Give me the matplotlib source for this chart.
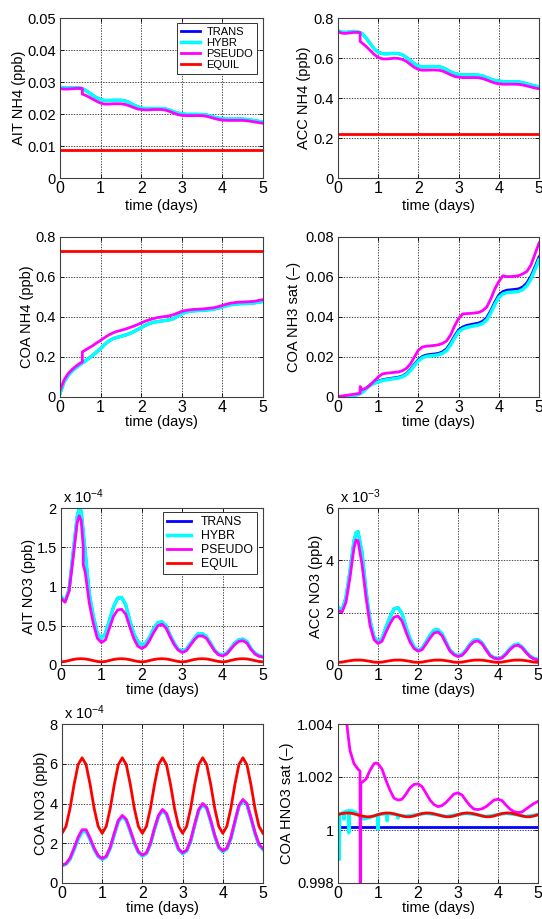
import numpy as np
import matplotlib
matplotlib.use("Agg")
import matplotlib.pyplot as plt

plt.rcParams['font.family'] = ['Liberation Sans', 'DejaVu Sans']
plt.rcParams['mathtext.fontset'] = 'custom'
plt.rcParams['mathtext.rm'] = 'Liberation Sans'
plt.rcParams['mathtext.it'] = 'Liberation Sans:italic'
plt.rcParams['mathtext.default'] = 'regular'

# ---------------------------------------------------------------- time grids
days = np.round(np.arange(51) * 0.1, 2)                  # 0.0 ... 5.0
days_jump = np.insert(days, 6, [0.55, 0.55])             # extra step at 0.55 d
days_peak = np.insert(days, 5, 0.45)                     # extra point at 0.45 d
days_peak_jump = np.insert(days_jump, 5, 0.45)
days_const = [0, 1, 2, 3, 4, 5]

series_names = ['TRANS', 'HYBR', 'PSEUDO', 'EQUIL']
series_colors = ['#0000ff', '#00ffff', '#ff00ff', '#ff0000']

# ---------------------------------------------------------------- AIT NH4 (ppb)
ait_nh4_hybr = [
    0.0284, 0.0281, 0.0281, 0.0282, 0.0282, 0.0281, 0.0276, 0.0268, 0.0259, 0.0251,
    0.0245, 0.0242, 0.0242, 0.0243, 0.0243, 0.0243, 0.0241, 0.0236, 0.0229, 0.0223,
    0.0219, 0.0217, 0.0217, 0.0217, 0.0217, 0.0217, 0.0216, 0.0212, 0.0207, 0.0203,
    0.0201, 0.0199, 0.0199, 0.0199, 0.0199, 0.0198, 0.0197, 0.0194, 0.0190, 0.0187,
    0.0185, 0.0184, 0.0184, 0.0184, 0.0184, 0.0184, 0.0183, 0.0181, 0.0179, 0.0177,
    0.0176]
ait_nh4_trans = ait_nh4_hybr
ait_nh4_pseudo = [
    0.0279, 0.0278, 0.0278, 0.0279, 0.0280, 0.0280, 0.0280, 0.0262,
    0.0260, 0.0254, 0.0247, 0.0240,
    0.0234, 0.0231, 0.0231, 0.0232, 0.0232, 0.0232, 0.0230, 0.0226, 0.0221, 0.0216,
    0.0214, 0.0213, 0.0213, 0.0214, 0.0214, 0.0214, 0.0212, 0.0208, 0.0203, 0.0198,
    0.0196, 0.0195, 0.0195, 0.0195, 0.0195, 0.0195, 0.0193, 0.0190, 0.0186, 0.0183,
    0.0181, 0.0180, 0.0180, 0.0180, 0.0180, 0.0180, 0.0179, 0.0177, 0.0175, 0.0173,
    0.0171]
ait_nh4_equil = [0.0088, 0.0088, 0.0088, 0.0088, 0.0088, 0.0088]

# ---------------------------------------------------------------- ACC NH4 (ppb)
acc_nh4_hybr = [
    0.736, 0.729, 0.728, 0.731, 0.733, 0.730, 0.722, 0.700, 0.672, 0.646,
    0.628, 0.622, 0.621, 0.622, 0.623, 0.622, 0.616, 0.603, 0.587, 0.571,
    0.560, 0.556, 0.556, 0.557, 0.557, 0.557, 0.552, 0.542, 0.531, 0.523,
    0.518, 0.515, 0.515, 0.515, 0.515, 0.514, 0.510, 0.502, 0.494, 0.488,
    0.485, 0.482, 0.481, 0.481, 0.481, 0.480, 0.477, 0.471, 0.465, 0.460,
    0.456]
acc_nh4_trans = acc_nh4_hybr
acc_nh4_pseudo = [
    0.731, 0.724, 0.723, 0.726, 0.728, 0.728, 0.727, 0.683,
    0.675, 0.658, 0.638, 0.618,
    0.603, 0.596, 0.595, 0.597, 0.599, 0.598, 0.593, 0.583, 0.568, 0.553,
    0.543, 0.539, 0.539, 0.540, 0.540, 0.539, 0.535, 0.526, 0.516, 0.508,
    0.504, 0.502, 0.502, 0.502, 0.502, 0.501, 0.497, 0.490, 0.482, 0.475,
    0.471, 0.469, 0.469, 0.469, 0.469, 0.468, 0.465, 0.460, 0.455, 0.450,
    0.446]
acc_nh4_equil = [0.222, 0.222, 0.222, 0.222, 0.222, 0.222]

# ---------------------------------------------------------------- COA NH4 (ppb)
coa_nh4_hybr = [
    0.017, 0.075, 0.108, 0.130, 0.148, 0.163, 0.177, 0.192, 0.207, 0.225,
    0.242, 0.262, 0.280, 0.291, 0.298, 0.303, 0.309, 0.316, 0.325, 0.336,
    0.347, 0.358, 0.367, 0.373, 0.377, 0.380, 0.383, 0.386, 0.392, 0.404,
    0.417, 0.424, 0.429, 0.431, 0.432, 0.433, 0.435, 0.437, 0.440, 0.445,
    0.450, 0.456, 0.461, 0.464, 0.466, 0.467, 0.468, 0.469, 0.471, 0.474,
    0.478]
coa_nh4_trans = coa_nh4_hybr
coa_nh4_pseudo = [
    0.033, 0.085, 0.117, 0.138, 0.155, 0.170, 0.175, 0.225,
    0.232, 0.244, 0.256, 0.270,
    0.283, 0.297, 0.310, 0.320, 0.328, 0.333, 0.339, 0.346, 0.353, 0.361,
    0.370, 0.379, 0.386, 0.392, 0.397, 0.400, 0.403, 0.406, 0.412, 0.420,
    0.428, 0.433, 0.436, 0.438, 0.439, 0.440, 0.442, 0.444, 0.447, 0.452,
    0.458, 0.464, 0.469, 0.472, 0.474, 0.475, 0.476, 0.477, 0.479, 0.483,
    0.487]
coa_nh4_equil = [0.730, 0.730, 0.730, 0.730, 0.730, 0.730]

# ---------------------------------------------------------------- COA NH3 saturation (-)
nh3_sat_trans = [
    0.0000, 0.0002, 0.0004, 0.0006, 0.0009, 0.0013, 0.0024, 0.0043, 0.0061, 0.0072,
    0.0079, 0.0086, 0.0090, 0.0093, 0.0096, 0.0099, 0.0105, 0.0117, 0.0138, 0.0164,
    0.0187, 0.0203, 0.0210, 0.0213, 0.0215, 0.0218, 0.0226, 0.0241, 0.0270, 0.0305,
    0.0336, 0.0350, 0.0358, 0.0362, 0.0366, 0.0370, 0.0379, 0.0397, 0.0432, 0.0474,
    0.0510, 0.0527, 0.0534, 0.0536, 0.0538, 0.0541, 0.0551, 0.0571, 0.0604, 0.0651,
    0.0700]
nh3_sat_hybr = [
    0.0000, 0.0002, 0.0004, 0.0006, 0.0009, 0.0012, 0.0022, 0.0040, 0.0058, 0.0068,
    0.0075, 0.0082, 0.0086, 0.0089, 0.0092, 0.0095, 0.0101, 0.0112, 0.0132, 0.0158,
    0.0180, 0.0196, 0.0203, 0.0206, 0.0208, 0.0211, 0.0218, 0.0232, 0.0260, 0.0295,
    0.0326, 0.0340, 0.0348, 0.0352, 0.0356, 0.0360, 0.0368, 0.0385, 0.0420, 0.0462,
    0.0498, 0.0515, 0.0522, 0.0524, 0.0526, 0.0528, 0.0538, 0.0557, 0.0590, 0.0637,
    0.0686]
nh3_sat_pseudo = [
    0.0003, 0.0005, 0.0008, 0.0011, 0.0014, 0.0017, 0.0019, 0.0052,
    0.0036, 0.0045, 0.0060, 0.0080,
    0.0100, 0.0115, 0.0119, 0.0121, 0.0123, 0.0125, 0.0131, 0.0143, 0.0165, 0.0200,
    0.0234, 0.0250, 0.0254, 0.0256, 0.0258, 0.0261, 0.0268, 0.0280, 0.0310, 0.0355,
    0.0393, 0.0415, 0.0417, 0.0418, 0.0420, 0.0423, 0.0432, 0.0450, 0.0490, 0.0540,
    0.0577, 0.0606, 0.0602, 0.0602, 0.0604, 0.0607, 0.0616, 0.0628, 0.0660, 0.0715,
    0.0770]

# ---------------------------------------------------------------- AIT NO3 (1e-4 ppb)
ait_no3_hybr = [
    0.87, 0.81, 0.96, 1.43, 1.89, 1.99, 1.96,
    1.43, 0.91, 0.62, 0.40,
    0.34, 0.40, 0.57, 0.74, 0.85, 0.86, 0.77, 0.57, 0.40, 0.30,
    0.255, 0.28, 0.36, 0.47, 0.54, 0.55, 0.50, 0.38, 0.28, 0.20,
    0.18, 0.20, 0.27, 0.34, 0.40, 0.40, 0.36, 0.28, 0.19, 0.14,
    0.13, 0.15, 0.21, 0.28, 0.32, 0.33, 0.30, 0.21, 0.15, 0.12,
    0.105]
ait_no3_trans = ait_no3_hybr
ait_no3_pseudo = [
    0.85, 0.80, 0.94, 1.36, 1.81, 1.90, 1.84, 1.50, 1.28,
    1.18, 0.79, 0.53, 0.34,
    0.285, 0.32, 0.47, 0.62, 0.70, 0.71, 0.65, 0.49, 0.34, 0.24,
    0.21, 0.24, 0.32, 0.42, 0.50, 0.52, 0.47, 0.36, 0.26, 0.19,
    0.16, 0.18, 0.25, 0.32, 0.37, 0.37, 0.34, 0.26, 0.18, 0.13,
    0.115, 0.14, 0.20, 0.26, 0.30, 0.31, 0.28, 0.20, 0.14, 0.11,
    0.10]
ait_no3_equil = [
    0.040, 0.045, 0.058, 0.070, 0.078, 0.080, 0.077, 0.068, 0.056, 0.045,
    0.040, 0.045, 0.058, 0.070, 0.078, 0.080, 0.077, 0.068, 0.056, 0.045,
    0.040, 0.045, 0.058, 0.070, 0.078, 0.080, 0.077, 0.068, 0.056, 0.045,
    0.040, 0.045, 0.058, 0.070, 0.078, 0.080, 0.077, 0.068, 0.056, 0.045,
    0.040, 0.045, 0.058, 0.070, 0.078, 0.080, 0.077, 0.068, 0.056, 0.045,
    0.040]

# ---------------------------------------------------------------- ACC NO3 (1e-3 ppb)
acc_no3_hybr = [
    2.21, 2.08, 2.59, 3.60, 4.74, 5.05, 5.10,
    4.30, 2.84, 1.71, 1.07,
    0.88, 1.01, 1.45, 1.83, 2.15, 2.19, 1.96, 1.45, 1.01, 0.69,
    0.57, 0.63, 0.88, 1.14, 1.33, 1.35, 1.20, 0.88, 0.57, 0.42,
    0.35, 0.40, 0.57, 0.80, 0.95, 0.97, 0.85, 0.61, 0.38, 0.28,
    0.25, 0.29, 0.44, 0.63, 0.76, 0.80, 0.69, 0.51, 0.34, 0.25,
    0.21]
acc_no3_trans = acc_no3_hybr
acc_no3_pseudo = [
    2.08, 2.02, 2.40, 3.35, 4.48, 4.78, 4.75,
    3.85, 2.59, 1.52, 0.97,
    0.82, 0.91, 1.26, 1.58, 1.83, 1.87, 1.68, 1.26, 0.88, 0.63,
    0.53, 0.58, 0.80, 1.03, 1.22, 1.26, 1.12, 0.82, 0.53, 0.39,
    0.32, 0.37, 0.53, 0.75, 0.89, 0.92, 0.81, 0.58, 0.36, 0.26,
    0.23, 0.27, 0.41, 0.59, 0.72, 0.76, 0.66, 0.48, 0.32, 0.23,
    0.19]
acc_no3_equil = [
    0.10, 0.11, 0.14, 0.165, 0.185, 0.19, 0.185, 0.165, 0.14, 0.11,
    0.10, 0.11, 0.14, 0.165, 0.185, 0.19, 0.185, 0.165, 0.14, 0.11,
    0.10, 0.11, 0.14, 0.165, 0.185, 0.19, 0.185, 0.165, 0.14, 0.11,
    0.10, 0.11, 0.14, 0.165, 0.185, 0.19, 0.185, 0.165, 0.14, 0.11,
    0.10, 0.11, 0.14, 0.165, 0.185, 0.19, 0.185, 0.165, 0.14, 0.11,
    0.10]

# ---------------------------------------------------------------- COA NO3 (1e-4 ppb)
coa_no3_hybr = [
    0.88, 0.95, 1.20, 1.68, 2.20, 2.58, 2.60, 2.18, 1.70, 1.34,
    1.19, 1.31, 1.75, 2.44, 3.09, 3.34, 3.14, 2.59, 2.00, 1.54,
    1.36, 1.48, 1.95, 2.70, 3.35, 3.65, 3.45, 2.85, 2.20, 1.68,
    1.48, 1.61, 2.10, 2.90, 3.65, 3.95, 3.75, 3.10, 2.35, 1.78,
    1.58, 1.71, 2.23, 3.05, 3.85, 4.15, 3.95, 3.25, 2.50, 1.91,
    1.69]
coa_no3_trans = coa_no3_hybr
coa_no3_pseudo = [
    0.90, 0.98, 1.25, 1.75, 2.30, 2.68, 2.68, 2.25, 1.75, 1.38,
    1.23, 1.35, 1.80, 2.50, 3.15, 3.40, 3.20, 2.65, 2.05, 1.58,
    1.40, 1.52, 2.00, 2.75, 3.40, 3.70, 3.50, 2.90, 2.25, 1.72,
    1.52, 1.65, 2.15, 2.95, 3.70, 4.00, 3.80, 3.15, 2.40, 1.82,
    1.62, 1.75, 2.28, 3.10, 3.90, 4.20, 4.00, 3.30, 2.55, 1.95,
    1.73]
coa_no3_equil = [
    2.50, 2.85, 3.75, 4.95, 5.95, 6.30, 5.95, 4.95, 3.75, 2.85,
    2.50, 2.85, 3.75, 4.95, 5.95, 6.30, 5.95, 4.95, 3.75, 2.85,
    2.50, 2.85, 3.75, 4.95, 5.95, 6.30, 5.95, 4.95, 3.75, 2.85,
    2.50, 2.85, 3.75, 4.95, 5.95, 6.30, 5.95, 4.95, 3.75, 2.85,
    2.50, 2.85, 3.75, 4.95, 5.95, 6.30, 5.95, 4.95, 3.75, 2.85,
    2.50]

# ---------------------------------------------------------------- COA HNO3 saturation (-)
hno3_sat_trans = [1.00012, 1.00012, 1.00012, 1.00012, 1.00012, 1.00012]
hno3_hybr_t = [
    0.0, 0.02, 0.03, 0.04, 0.10, 0.14, 0.15, 0.16, 0.20, 0.26, 0.27, 0.28, 0.35, 0.45,
    0.55, 0.65, 0.80, 0.99, 1.00, 1.01, 1.10, 1.22, 1.23, 1.24, 1.40, 1.49, 1.50, 1.51,
    1.70, 2.0, 2.2, 2.5, 2.7, 3.0, 3.2, 3.5, 3.7, 4.0, 4.2, 4.5, 4.7, 5.0]
hno3_sat_hybr = [
    1.00058, 1.00060, 0.99889, 1.00060, 1.00064, 1.00066, 1.00041, 1.00066, 1.00070,
    1.00072, 0.99990, 1.00072, 1.00072, 1.00066, 1.00050, 1.00042, 1.00048, 1.00058,
    1.00003, 1.00058, 1.00060, 1.00062, 1.00035, 1.00062, 1.00060, 1.00056, 1.00045,
    1.00056, 1.00052, 1.00058, 1.00063, 1.00057, 1.00051, 1.00058, 1.00063, 1.00057,
    1.00051, 1.00058, 1.00063, 1.00057, 1.00051, 1.00058]
hno3_pseudo_t = [0.0, 0.1, 0.2, 0.25, 0.3, 0.4, 0.5, 0.55, 0.555, 0.565, 0.57,
                 0.6, 0.7, 0.8, 0.9, 0.95] + list(days[10:])
hno3_sat_pseudo = [
    1.0120, 1.0068, 1.0043, 1.0036, 1.0030, 1.00250, 1.00230, 1.00222, 0.9970, 0.9970,
    1.00176, 1.00180, 1.00192, 1.00225, 1.00250, 1.00253,
    1.00250, 1.00230, 1.00187, 1.00150, 1.00120, 1.00113, 1.00116, 1.00136, 1.00159, 1.00172,
    1.00174, 1.00164, 1.00139, 1.00113, 1.00096, 1.00088, 1.00092, 1.00104, 1.00120, 1.00136,
    1.00140, 1.00132, 1.00111, 1.00092, 1.00079, 1.00077, 1.00080, 1.00088, 1.00100, 1.00113,
    1.00116, 1.00111, 1.00094, 1.00079, 1.00069, 1.00066, 1.00068, 1.00079, 1.00090, 1.00100,
    1.00108]
hno3_sat_equil = [
    1.00058, 1.00062, 1.00064, 1.00064, 1.00061, 1.00057, 1.00053, 1.00050, 1.00050, 1.00053,
    1.00058, 1.00062, 1.00064, 1.00064, 1.00061, 1.00057, 1.00053, 1.00050, 1.00050, 1.00053,
    1.00058, 1.00062, 1.00064, 1.00064, 1.00061, 1.00057, 1.00053, 1.00050, 1.00050, 1.00053,
    1.00058, 1.00062, 1.00064, 1.00064, 1.00061, 1.00057, 1.00053, 1.00050, 1.00050, 1.00053,
    1.00058, 1.00062, 1.00064, 1.00064, 1.00061, 1.00057, 1.00053, 1.00050, 1.00050, 1.00053,
    1.00058]

# ---------------------------------------------------------------- figure
W, H = 542, 919
fig = plt.figure(figsize=(W / 100, H / 100), dpi=100)


def make_axes(left, right, top, bottom):
    return fig.add_axes([left / W, 1 - bottom / H, (right - left) / W, (bottom - top) / H])


def draw(ax, curves):
    widths = [2.0, 2.5, 2.0, 2.0]
    for (t, y), color, lw, name in zip(curves, series_colors, widths, series_names):
        ax.plot(t, y, color=color, lw=lw, label=name, solid_joinstyle='round')


def decorate(ax, box, ylim, yticks, ylabels, ylabel, ylabel_x, xlabel_gap, scale=None):
    left, right, top, bottom = box
    ax.set_xlim(0, 5)
    ax.set_ylim(*ylim)
    ax.set_xticks(range(6))
    ax.set_xticklabels([str(i) for i in range(6)])
    ax.set_yticks(yticks)
    ax.set_yticklabels(ylabels)
    ax.grid(True, linestyle=(0, (1.6, 1.6)), color='0.15', linewidth=0.6)
    ax.set_axisbelow(True)
    ax.tick_params(direction='in', length=3, width=0.6, top=True, right=True,
                   labelsize=10.5, pad=3, colors='black')
    ax.tick_params(axis='x', labelsize=11.5, pad=2)
    for s in ax.spines.values():
        s.set_linewidth(0.8)
        s.set_color('0.25')
    ax.set_ylabel(ylabel, fontsize=10.5, va='center')
    ax.yaxis.set_label_coords((ylabel_x - left) / (right - left), 0.5)
    ax.set_xlabel('time (days)', fontsize=10.5, va='center')
    ax.xaxis.set_label_coords(0.5, -xlabel_gap / (bottom - top))
    if scale is not None:
        ax.text(0.01, 1.015, r'x 10$^{%d}$' % scale, transform=ax.transAxes,
                ha='left', va='bottom', fontsize=10.5)


def legend(ax, anchor, size, handlelen, textpad, spacing):
    leg = ax.legend(loc='upper right', bbox_to_anchor=anchor, borderaxespad=0,
                    fontsize=size, handlelength=handlelen, handletextpad=textpad,
                    labelspacing=spacing, borderpad=0.35, fancybox=False,
                    framealpha=1, edgecolor='0.2')
    leg.get_frame().set_linewidth(0.7)


# top-left: AIT NH4
box1 = (60, 263, 18, 178)
ax1 = make_axes(*box1)
draw(ax1, [(days, ait_nh4_trans), (days, ait_nh4_hybr),
           (days_jump, ait_nh4_pseudo), (days_const, ait_nh4_equil)])
decorate(ax1, box1, (0, 0.05), [0, 0.01, 0.02, 0.03, 0.04, 0.05],
         ['0', '0.01', '0.02', '0.03', '0.04', '0.05'], 'AIT NH4 (ppb)', 19, 28)
legend(ax1, (0.970, 0.969), 8.0, 1.7, 0.55, 0.1)

# top-right: ACC NH4
box2 = (338, 539, 18, 178)
ax2 = make_axes(*box2)
draw(ax2, [(days, acc_nh4_trans), (days, acc_nh4_hybr),
           (days_jump, acc_nh4_pseudo), (days_const, acc_nh4_equil)])
decorate(ax2, box2, (0, 0.8), [0, 0.2, 0.4, 0.6, 0.8],
         ['0', '0.2', '0.4', '0.6', '0.8'], 'ACC NH4 (ppb)', 304, 28)

# second row left: COA NH4
box3 = (60, 263, 237, 397)
ax3 = make_axes(*box3)
draw(ax3, [(days, coa_nh4_trans), (days, coa_nh4_hybr),
           (days_jump, coa_nh4_pseudo), (days_const, coa_nh4_equil)])
decorate(ax3, box3, (0, 0.8), [0, 0.2, 0.4, 0.6, 0.8],
         ['0', '0.2', '0.4', '0.6', '0.8'], 'COA NH4 (ppb)', 27, 25)

# second row right: COA NH3 saturation
box4 = (338, 539, 237, 397)
ax4 = make_axes(*box4)
draw(ax4, [(days, nh3_sat_trans), (days, nh3_sat_hybr),
           (days_jump, nh3_sat_pseudo), (days_const, [np.nan] * 6)])
decorate(ax4, box4, (0, 0.08), [0, 0.02, 0.04, 0.06, 0.08],
         ['0', '0.02', '0.04', '0.06', '0.08'], 'COA NH3 sat (–)', 294, 25)

# third row left: AIT NO3
box5 = (61, 263, 508, 665)
ax5 = make_axes(*box5)
draw(ax5, [(days_peak, ait_no3_trans), (days_peak, ait_no3_hybr),
           (days_peak_jump, ait_no3_pseudo), (days, ait_no3_equil)])
decorate(ax5, box5, (0, 2), [0, 0.5, 1, 1.5, 2], ['0', '0.5', '1', '1.5', '2'],
         'AIT NO3 (ppb)', 29, 25, scale=-4)
legend(ax5, (0.970, 0.975), 8.8, 1.95, 0.8, 0.16)

# third row right: ACC NO3
box6 = (338, 538, 508, 665)
ax6 = make_axes(*box6)
draw(ax6, [(days_peak, acc_no3_trans), (days_peak, acc_no3_hybr),
           (days_peak, acc_no3_pseudo), (days, acc_no3_equil)])
decorate(ax6, box6, (0, 6), [0, 2, 4, 6], ['0', '2', '4', '6'],
         'ACC NO3 (ppb)', 316, 25, scale=-3)

# bottom left: COA NO3
box7 = (62, 263, 724, 883)
ax7 = make_axes(*box7)
draw(ax7, [(days, coa_no3_trans), (days, coa_no3_hybr),
           (days, coa_no3_pseudo), (days, coa_no3_equil)])
decorate(ax7, box7, (0, 8), [0, 2, 4, 6, 8], ['0', '2', '4', '6', '8'],
         'COA NO3 (ppb)', 41, 25, scale=-4)

# bottom right: COA HNO3 saturation
box8 = (338, 538, 724, 883)
ax8 = make_axes(*box8)
draw(ax8, [(days_const, hno3_sat_trans), (hno3_hybr_t, hno3_sat_hybr),
           (hno3_pseudo_t, hno3_sat_pseudo), (days, hno3_sat_equil)])
decorate(ax8, box8, (0.998, 1.004), [0.998, 1.0, 1.002, 1.004],
         ['0.998', '1', '1.002', '1.004'], 'COA HNO3 sat (–)', 287, 25)

fig.savefig('out.png', dpi=100, facecolor='white')
